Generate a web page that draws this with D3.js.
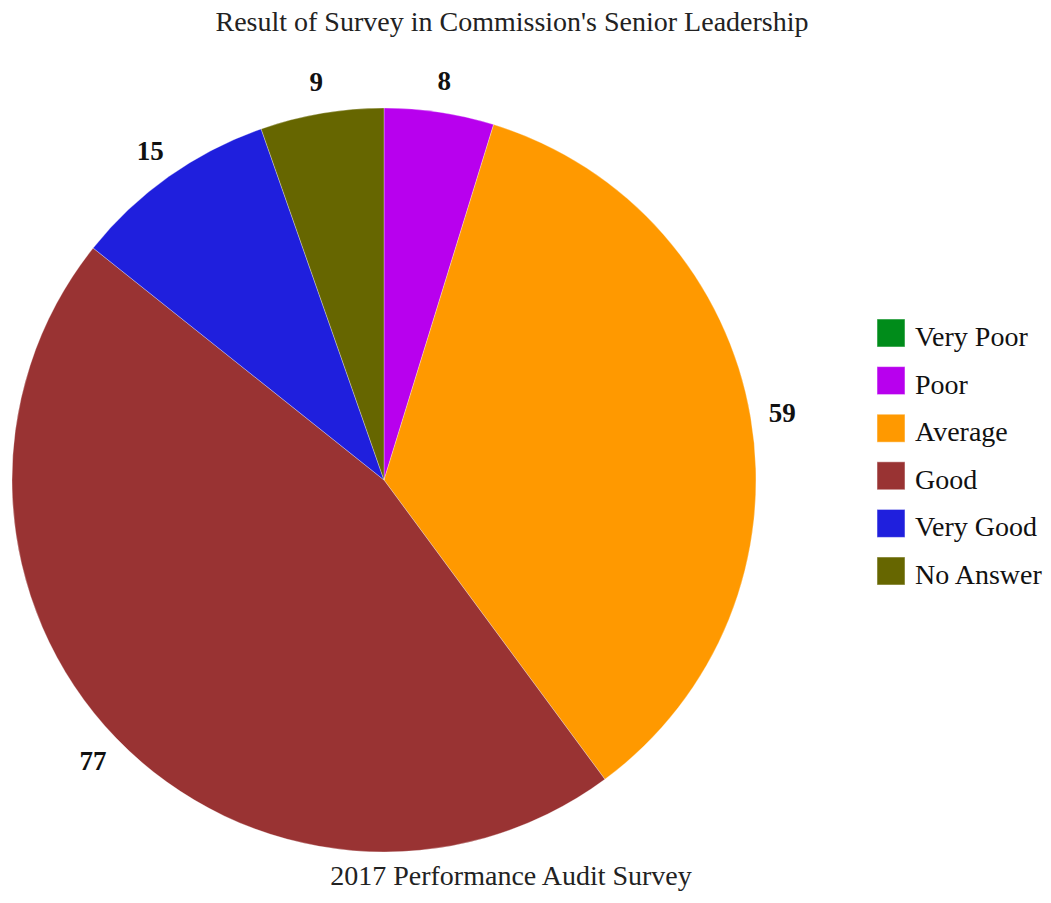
<!DOCTYPE html>
<html><head><meta charset="utf-8">
<script src="https://cdn.jsdelivr.net/npm/d3@7"></script>
<style>body{margin:0;background:#fff}svg{display:block}text{font-family:"Liberation Serif","Times New Roman",serif}</style>
</head><body>
<svg id="c" width="1051" height="903"></svg>
<script>
const categories = ["Very Poor","Poor","Average","Good","Very Good","No Answer"];
const values = [0,8,59,77,15,9];
const colors = ["#008c1a","#b800ee","#ff9900","#993333","#1f1fdd","#666600"];
const title = "Result of Survey in Commission's Senior Leadership";
const subtitle = "2017 Performance Audit Survey";

const svg = d3.select("#c");
const cx = 384, cy = 480, R = 372, LR = 404;
const data = categories.map((c,i)=>({cat:c,value:values[i],color:colors[i]}));
const pie = d3.pie().value(d=>d.value).sort(null);
const arc = d3.arc().innerRadius(0).outerRadius(R);
const labelArc = d3.arc().innerRadius(LR).outerRadius(LR);
const arcs = pie(data);
const g = svg.append("g").attr("transform",`translate(${cx},${cy})`);
g.selectAll("path").data(arcs.filter(d=>d.value>0)).join("path")
  .attr("d",arc).attr("fill",d=>d.data.color)
  .attr("stroke","#fff").attr("stroke-width",0.5).attr("stroke-opacity",0.6);
g.selectAll("text.lbl").data(arcs.filter(d=>d.value>0)).join("text")
  .attr("class","lbl")
  .attr("transform",d=>`translate(${labelArc.centroid(d)})`)
  .attr("text-anchor","middle").attr("dy","0.35em")
  .attr("font-size",27).attr("font-weight","bold").attr("fill","#111")
  .text(d=>d.value);

svg.append("text").attr("x",512).attr("y",31).attr("text-anchor","middle")
  .attr("font-size",28).attr("fill","#222").text(title);
svg.append("text").attr("x",511).attr("y",885).attr("text-anchor","middle")
  .attr("font-size",28).attr("fill","#222").text(subtitle);

const ly = d3.scalePoint().domain(categories).range([319,557]);
const leg = svg.append("g");
const rows = leg.selectAll("g").data(data).join("g")
  .attr("transform",d=>`translate(877,${ly(d.cat)})`);
rows.append("rect").attr("width",28).attr("height",28).attr("fill",d=>d.color)
  .attr("stroke","#fff").attr("stroke-opacity",0.5);
rows.append("text").attr("x",38).attr("y",27).attr("font-size",28).attr("fill","#111")
  .text(d=>d.cat);
</script>
</body></html>
